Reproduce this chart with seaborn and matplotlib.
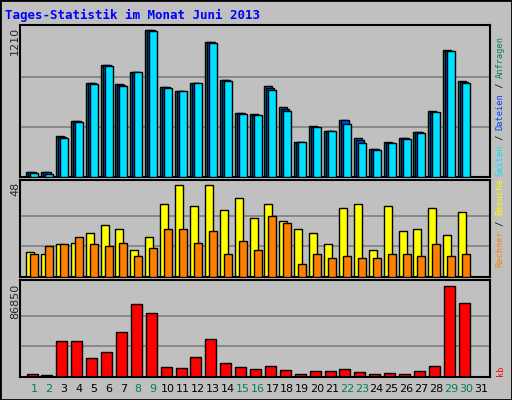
import numpy as np
import pandas as pd
import seaborn as sns
import matplotlib.pyplot as plt

sns.set_theme(style="white")
plt.rcParams["font.family"] = ["DejaVu Sans"]

# DATA
days = list(range(1, 32))
weekend = [1, 2, 8, 9, 15, 16, 22, 23, 29, 30]
anfragen = [43, 43, 333, 454, 761, 906, 753, 850, 1189, 729, 696, 761, 1092, 785, 519,
            508, 734, 565, 282, 411, 371, 460, 315, 226, 282, 315, 363, 532, 1024, 774, 0]
dateien = [38, 38, 325, 449, 757, 902, 745, 850, 1184, 725, 696, 761, 1086, 781, 515,
           504, 718, 550, 282, 407, 371, 460, 300, 222, 278, 311, 359, 528, 1020, 766, 0]
seiten = [32, 24, 317, 444, 753, 898, 737, 850, 1178, 721, 696, 761, 1081, 777, 511,
          500, 702, 532, 282, 403, 371, 428, 274, 218, 274, 307, 355, 524, 1016, 758, 0]
besuche = [13, 12, 17, 18, 23, 27, 25, 14, 21, 38, 48, 37, 48, 35, 41,
           31, 38, 29, 25, 23, 17, 36, 38, 14, 37, 24, 25, 36, 22, 34, 0]
rechner = [12, 16, 17, 21, 17, 16, 18, 11, 15, 25, 25, 18, 24, 12, 19,
           14, 32, 28, 7, 12, 10, 11, 10, 10, 12, 12, 11, 17, 11, 12, 0]
kb = [3150, 2200, 34300, 34300, 18250, 23900, 42800, 69200, 60100, 9750, 8800, 19200,
      36200, 13500, 9750, 7900, 10700, 6900, 3150, 6000, 6000, 7900, 5000, 3150, 4100,
      3150, 6000, 10700, 86200, 70200, 0]

df = pd.DataFrame({"day": days, "anfragen": anfragen, "dateien": dateien, "seiten": seiten,
                   "besuche": besuche, "rechner": rechner, "kb": kb})

W, H = 512, 400
BG = "#c0c0c0"
GREEN, BLUE, CYAN = "#00805c", "#0040ff", "#00e0ff"
YELLOW, ORANGE, RED = "#ffff00", "#ff8000", "#ff0000"

fig = plt.figure(figsize=(W / 100, H / 100), dpi=100, facecolor=BG)

def panel(top, bottom):
    ax = fig.add_axes([20 / W, 1 - bottom / H, 470 / W, (bottom - top) / H])
    ax.set_facecolor(BG)
    ax.set_xlim(0.06, 0.06 + 470 / 14.9)
    ax.set_xticks([])
    ax.set_yticks([])
    for s in ax.spines.values():
        s.set_color("black")
        s.set_linewidth(1.5)
    return ax

dpx = 1 / 14.9  # one pixel in day units

# Top panel: Anfragen / Dateien / Seiten
ax1 = panel(25, 177)
ymax1 = 1210
ax1.set_ylim(0, ymax1 * 152 / 150)
for g in (ymax1 / 3, 2 * ymax1 / 3):
    ax1.axhline(g, color="#808080", lw=1.2, zorder=0)
bw = 8 * dpx
ax1.bar(df.day - 4 * dpx, df.anfragen, width=bw, color=GREEN, edgecolor="black", lw=1, zorder=2)
ax1.bar(df.day - 2 * dpx, df.dateien, width=bw, color=BLUE, edgecolor="black", lw=1, zorder=3)
ax1.bar(df.day, df.seiten, width=bw, color=CYAN, edgecolor="black", lw=1, zorder=4)

# Middle panel: Besuche / Rechner
ax2 = panel(180, 277)
ymax2 = 48
ax2.set_ylim(0, ymax2 * 97 / 92)
for g in (16, 32):
    ax2.axhline(g, color="#808080", lw=1.2, zorder=0)
ax2.bar(df.day - 4 * dpx, df.besuche, width=bw, color=YELLOW, edgecolor="black", lw=1, zorder=2)
ax2.bar(df.day, df.rechner, width=bw, color=ORANGE, edgecolor="black", lw=1, zorder=3)

# Bottom panel: kB
ax3 = panel(280, 377)
ymax3 = 86850
ax3.set_ylim(0, ymax3 * 97 / 92)
for g in (ymax3 / 3, 2 * ymax3 / 3):
    ax3.axhline(g, color="#808080", lw=1.2, zorder=0)
ax3.bar(df.day - 2 * dpx, df.kb, width=11 * dpx, color=RED, edgecolor="black", lw=1, zorder=2)

# Day labels
for d in days:
    ax3.text(d, -0.12, str(d), transform=ax3.get_xaxis_transform(), ha="center", va="center",
             fontsize=8, color=GREEN if d in weekend else "black")

# Texts
fig.text(5 / W, 1 - 15 / H, "Tages-Statistik im Monat Juni 2013", color="#0000ff",
         fontsize=9, fontweight="bold", family="DejaVu Sans Mono", va="center")
for lab, y in (("1210", 27), ("48", 182), ("86850", 284)):
    fig.text(15 / W, 1 - y / H, lab, rotation=90, ha="center", va="top", fontsize=8)

def vtext(x, ybottom, parts, size=6.8):
    cw = 0.6 * size * 100 / 72
    y = ybottom
    for txt, col in parts:
        fig.text(x / W, 1 - y / H, txt, rotation=90, ha="center", va="bottom",
                 color=col, fontsize=size, family="DejaVu Sans Mono")
        y -= len(txt) * cw

vtext(500, 176, [("Seiten", CYAN), (" / ", "black"), ("Dateien", BLUE),
                 (" / ", "black"), ("Anfragen", GREEN)], size=6.2)
vtext(500, 267, [("Rechner", ORANGE), (" / ", "black"), ("Besuche", YELLOW)], size=6.2)
vtext(500, 376, [("kb", RED)], size=6.2)

# outer border
fig.patches.append(plt.Rectangle((0, 0), 1, 1, transform=fig.transFigure, fill=False,
                                 edgecolor="black", lw=2))
fig.savefig("out.png", dpi=100, facecolor=BG)
